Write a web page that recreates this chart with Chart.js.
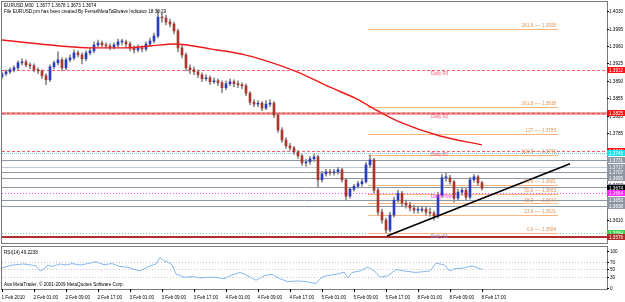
<!DOCTYPE html>
<html><head><meta charset="utf-8">
<script src="https://cdn.jsdelivr.net/npm/chart.js@4/dist/chart.umd.min.js"></script>
<style>
html,body{margin:0;padding:0;background:#fff;width:625px;height:302px;overflow:hidden}
#main{position:absolute;left:0;top:0}
#rsi{position:absolute;left:0;top:245px}
</style></head><body>
<canvas id="main" width="625" height="245"></canvas>
<canvas id="rsi" width="625" height="57"></canvas>
<script>
// ---------- DATA ----------
const opens = [1.3898,1.3904,1.3908,1.3912,1.3916,1.3926,1.3928,1.3922,1.3920,1.3912,
1.3910,1.3900,1.3892,1.3918,1.3926,1.3932,1.3916,1.3932,1.3936,1.3946,
1.3942,1.3934,1.3946,1.3950,1.3962,1.3966,1.3962,1.3960,1.3958,1.3962,
1.3968,1.3968,1.3964,1.3956,1.3952,1.3956,1.3954,1.3964,1.3970,1.3980,
1.4018,1.4016,1.4008,1.4004,1.3990,1.3956,1.3942,1.3916,1.3912,1.3908,
1.3902,1.3894,1.3896,1.3888,1.3890,1.3886,1.3876,1.3884,1.3888,1.3884,
1.3882,1.3880,1.3865,1.3847,1.3843,1.3845,1.3835,1.3843,1.3845,1.3821,
1.3791,1.3771,1.3759,1.3755,1.3747,1.3739,1.3725,1.3727,1.3733,1.3737,
1.3691,1.3703,1.3707,1.3705,1.3707,1.3711,1.3691,1.3658,1.3672,1.3678,
1.3683,1.3687,1.3721,1.3731,1.3670,1.3626,1.3610,1.3590,1.3620,1.3650,
1.3664,1.3644,1.3640,1.3634,1.3630,1.3630,1.3632,1.3626,1.3624,1.3618,
1.3660,1.3695,1.3695,1.3687,1.3654,1.3666,1.3670,1.3656,1.3691,1.3697,
1.3685];
const highs = [1.3908,1.3912,1.3916,1.3920,1.3930,1.3934,1.3932,1.3926,1.3924,1.3916,
1.3912,1.3904,1.3922,1.3930,1.3948,1.3936,1.3936,1.3942,1.3952,1.3950,
1.3946,1.3950,1.3956,1.3968,1.3972,1.3970,1.3966,1.3964,1.3966,1.3974,
1.3974,1.3972,1.3968,1.3960,1.3962,1.3960,1.3968,1.3976,1.3986,1.4032,
1.4026,1.4022,1.4014,1.4008,1.3994,1.3962,1.3946,1.3922,1.3918,1.3912,
1.3906,1.3902,1.3900,1.3896,1.3894,1.3890,1.3890,1.3894,1.3892,1.3890,
1.3886,1.3884,1.3868,1.3852,1.3850,1.3848,1.3850,1.3852,1.3848,1.3824,
1.3796,1.3776,1.3764,1.3758,1.3750,1.3742,1.3732,1.3738,1.3742,1.3740,
1.3708,1.3712,1.3712,1.3712,1.3716,1.3714,1.3694,1.3676,1.3682,1.3688,
1.3692,1.3726,1.3741,1.3734,1.3674,1.3632,1.3614,1.3626,1.3656,1.3670,
1.3668,1.3650,1.3646,1.3640,1.3638,1.3638,1.3636,1.3634,1.3628,1.3666,
1.3702,1.3704,1.3700,1.3690,1.3672,1.3676,1.3674,1.3696,1.3702,1.3700,
1.3688];
const lows = [1.3894,1.3900,1.3904,1.3908,1.3912,1.3922,1.3918,1.3914,1.3908,1.3904,
1.3894,1.3882,1.3888,1.3914,1.3922,1.3910,1.3912,1.3928,1.3932,1.3938,
1.3924,1.3930,1.3942,1.3946,1.3958,1.3958,1.3956,1.3952,1.3954,1.3958,
1.3962,1.3958,1.3950,1.3946,1.3948,1.3948,1.3950,1.3960,1.3966,1.3976,
1.4008,1.4002,1.3998,1.3984,1.3948,1.3936,1.3910,1.3904,1.3902,1.3896,
1.3888,1.3890,1.3882,1.3884,1.3880,1.3866,1.3872,1.3880,1.3878,1.3876,
1.3874,1.3860,1.3842,1.3838,1.3838,1.3830,1.3832,1.3838,1.3816,1.3786,
1.3766,1.3754,1.3750,1.3742,1.3734,1.3720,1.3718,1.3722,1.3728,1.3676,
1.3686,1.3698,1.3700,1.3700,1.3702,1.3686,1.3650,1.3654,1.3668,1.3674,
1.3678,1.3684,1.3716,1.3664,1.3620,1.3604,1.3584,1.3586,1.3616,1.3646,
1.3638,1.3634,1.3628,1.3624,1.3624,1.3626,1.3620,1.3618,1.3610,1.3614,
1.3656,1.3688,1.3682,1.3646,1.3650,1.3660,1.3650,1.3652,1.3686,1.3680,
1.3670];
const closes = [1.3904,1.3908,1.3912,1.3916,1.3926,1.3928,1.3922,1.3920,1.3912,1.3910,
1.3900,1.3892,1.3918,1.3926,1.3932,1.3916,1.3932,1.3936,1.3946,1.3942,
1.3934,1.3946,1.3950,1.3962,1.3966,1.3962,1.3960,1.3958,1.3962,1.3968,
1.3968,1.3964,1.3956,1.3952,1.3956,1.3954,1.3964,1.3970,1.3980,1.4018,
1.4016,1.4008,1.4004,1.3990,1.3956,1.3942,1.3916,1.3912,1.3908,1.3902,
1.3894,1.3896,1.3888,1.3890,1.3886,1.3876,1.3884,1.3888,1.3884,1.3882,
1.3880,1.3865,1.3847,1.3843,1.3845,1.3835,1.3843,1.3845,1.3821,1.3791,
1.3771,1.3759,1.3755,1.3747,1.3739,1.3725,1.3727,1.3733,1.3737,1.3691,
1.3703,1.3707,1.3705,1.3707,1.3711,1.3691,1.3658,1.3672,1.3678,1.3683,
1.3687,1.3721,1.3731,1.3670,1.3626,1.3610,1.3590,1.3620,1.3650,1.3664,
1.3644,1.3640,1.3634,1.3630,1.3630,1.3632,1.3626,1.3624,1.3618,1.3660,
1.3695,1.3695,1.3687,1.3654,1.3666,1.3670,1.3656,1.3691,1.3697,1.3685,
1.3674];

const timeLabels = ['1 Feb 2010','2 Feb 01:00','2 Feb 09:00','2 Feb 17:00','3 Feb 01:00','3 Feb 09:00',
  '3 Feb 17:00','4 Feb 01:00','4 Feb 09:00','4 Feb 17:00','5 Feb 01:00','5 Feb 09:00','5 Feb 17:00',
  '8 Feb 01:00','8 Feb 09:00','8 Feb 17:00'];
const timeLabelHours = [0,8,16,24,32,40,48,56,64,72,80,88,96,104,112,120];

const maHours  = [0,7,14.5,22,30.75,37,43.25,52,60.75,65.25,73.75,82,88.25,94.5,99.5,109.5,120];
const maValues = [1.3972,1.3966,1.3960,1.3956,1.3956,1.3960,1.3964,1.3954,1.3942,1.3932,1.3908,1.3877,1.3855,1.3827,1.3807,1.3779,1.3761];

const rsiHours = [0,2.5,5.5,8.5,9.5,10.5,11.5,12.5,14.5,16,17.5,19.5,21.5,23.5,25.5,27.5,29.5,31.5,32.5,34.5,
  36.5,38.5,39.5,40.5,41.5,42.5,43.5,45.5,47.5,49.5,51.5,53.5,55.5,57.5,59.5,61.5,63.5,65.5,67.5,69.5,
  71.5,73.5,75.5,78.5,79.5,80.5,83.5,85.5,86.5,87.5,89.5,91.5,93.5,94.5,96.5,98.5,100.5,103.5,107,108.5,
  110.5,112,113,115.5,117.5,119,120];
const rsiValues = [54,62,65,60,46,52,62,58,65,62,66,62,66,71,63,66,58,56,52,46,
  57,65,83,73,70,63,38,29,31,27,29,29,25,35,42,33,21,33,37,25,
  17,19,18,12,25,32,37,43,27,42,46,57,42,29,33,50,46,42,46,67,
  63,46,52,54,60,54,50];
const rsiTicks = [100,70,50,30,0];
const rsiLevels = [70,50,30];
const rsiLast = '49.2238';

const pivotNames  = ['Daily R3','Daily R2','Daily R1','Daily Pivot','Daily S1'];
const pivotValues = [1.3912,1.3825,1.3749,1.3664,1.3584];
const openLine = 1.3745;
const srLevels = [1.3731,1.3717,1.3707,1.3695,1.3676,1.3650,1.3638];
const lowLine = 1.3576;
const bid = 1.3674;
const fibRatios = ['261.8','161.8','127','100.0','61.8','50.0','38.2','23.6','0.0'];
const fibValues = [1.3995,1.3838,1.3783,1.3741,1.3681,1.3663,1.3644,1.3621,1.3584];
const trendHours = [96.25,142];
const trendValues = [1.3578,1.3723];
const priceTicks = [1.4030,1.3995,1.3960,1.3925,1.3890,1.3855,1.3820,1.3785,1.3750,1.3715,1.3680,1.3645,1.3610,1.3575];
const titleLine1 = 'EURUSD,M30  1.3677 1.3678 1.3673 1.3674';
const titleLine2 = 'File EURUSD.prn has been created By FerrariMetaToElwave Indicator 18:30:29';
const copyright = 'Ava MetaTrader, \u00a9 2001-2009 MetaQuotes Software Corp.';

// ---------- STYLE / LAYOUT ----------
const FONT = '4.6px "Liberation Sans", Arial, sans-serif';
const X_MAX = 151.25;
const Y_MIN = 1.35639, Y_MAX = 1.40483;
const FIB_FROM = 91.5, FIB_TO = 139;

function hl(ctx, py, color, w, dash, x0, x1){
  ctx.save();
  ctx.strokeStyle = color; ctx.lineWidth = w; ctx.setLineDash(dash || []);
  const yy = (w % 2 === 1) ? Math.round(py) + 0.5 : Math.round(py);
  ctx.beginPath(); ctx.moveTo(x0, yy); ctx.lineTo(x1, yy); ctx.stroke();
  ctx.restore();
}
function box(ctx, py, bg, fg, text){
  const yy = Math.round(py);
  ctx.fillStyle = bg; ctx.fillRect(607, yy - 3, 18, 6);
  ctx.fillStyle = fg; ctx.font = FONT; ctx.textAlign = 'left'; ctx.textBaseline = 'middle';
  ctx.fillText(text, 609, yy + 0.3);
}

const mainDecor = {
  id: 'mainDecor',
  beforeDatasetsDraw(chart){
    const {ctx, chartArea: a, scales: {x, y}} = chart;
    ctx.save();
    ctx.beginPath(); ctx.rect(a.left, a.top, a.right - a.left, a.bottom - a.top); ctx.clip();
    const L = a.left, R = a.right;
    srLevels.forEach((v, i) => hl(ctx, y.getPixelForValue(v), i === 1 ? '#c3c9d0' : '#8d97a3', 1, [], L, R));
    hl(ctx, y.getPixelForValue(pivotValues[0]), '#ff5a70', 1, [3,2], L, R);
    hl(ctx, y.getPixelForValue(pivotValues[1]), '#eea2a2', 3, [], L, R);
    hl(ctx, y.getPixelForValue(pivotValues[1]), '#e0505e', 1, [3,2], L, R);
    hl(ctx, y.getPixelForValue(pivotValues[2]), '#ff5a70', 1, [3,2], L, R);
    hl(ctx, y.getPixelForValue(openLine), '#5cd6de', 1, [1,1], L, R);
    hl(ctx, y.getPixelForValue(pivotValues[3]), '#ff40ff', 1, [1,2], L, R);
    hl(ctx, y.getPixelForValue(pivotValues[4]), '#7cc87c', 1, [1,2], L, R);
    hl(ctx, y.getPixelForValue(lowLine), '#b03030', 2, [], L, R);
    const fx0 = x.getPixelForValue(FIB_FROM), fx1 = x.getPixelForValue(FIB_TO);
    fibValues.forEach(v => hl(ctx, y.getPixelForValue(v), '#ffb47c', 1, [], fx0, fx1));
    ctx.restore();
  },
  afterDatasetsDraw(chart){
    const {ctx, chartArea: a, scales: {x, y}} = chart;
    ctx.save();
    ctx.font = FONT;
    const fx1 = x.getPixelForValue(FIB_TO);
    ctx.fillStyle = '#e0955a'; ctx.textAlign = 'right'; ctx.textBaseline = 'bottom';
    fibValues.forEach((v, i) => ctx.fillText(fibRatios[i] + ' ---- ' + v.toFixed(4), fx1 - 2, y.getPixelForValue(v) - 0.5));
    const pColors = ['#ff5a7a','#ff5a7a','#ff5a7a','#ff30ff','#8a7cc0'];
    ctx.textAlign = 'left'; ctx.textBaseline = 'top';
    pivotNames.forEach((n, i) => { ctx.fillStyle = pColors[i]; ctx.fillText(n, 431, y.getPixelForValue(pivotValues[i]) + 1.5); });
    ctx.fillStyle = '#000'; ctx.textBaseline = 'alphabetic';
    ctx.fillText(titleLine1, 4, 7);
    ctx.fillText(titleLine2, 4, 12.5);
    ctx.restore();
  },
  afterDraw(chart){
    const {ctx, chartArea: a, scales: {y}} = chart;
    ctx.save();
    ctx.strokeStyle = '#7a7a7a'; ctx.lineWidth = 1;
    ctx.strokeRect(a.left - 0.5, a.top - 0.5, a.right - a.left + 1, a.bottom - a.top + 1);
    ctx.font = FONT; ctx.fillStyle = '#000'; ctx.textAlign = 'left'; ctx.textBaseline = 'middle';
    priceTicks.forEach(v => {
      const py = Math.round(y.getPixelForValue(v)) + 0.5;
      ctx.beginPath(); ctx.moveTo(a.right, py); ctx.lineTo(a.right + 2, py); ctx.strokeStyle = '#000'; ctx.stroke();
      ctx.fillText(v.toFixed(4), 609, py);
    });
    box(ctx, y.getPixelForValue(pivotValues[0]), '#ff1010', '#fff', pivotValues[0].toFixed(4));
    box(ctx, y.getPixelForValue(pivotValues[1]), '#ff1010', '#fff', pivotValues[1].toFixed(4));
    box(ctx, y.getPixelForValue(pivotValues[2]), '#ff1010', '#fff', pivotValues[2].toFixed(4));
    box(ctx, y.getPixelForValue(openLine), '#18e0ec', '#fff', openLine.toFixed(4));
    srLevels.forEach(v => box(ctx, y.getPixelForValue(v), '#8d97a3', '#fff', v.toFixed(4)));
    box(ctx, y.getPixelForValue(bid), '#000', '#fff', bid.toFixed(4));
    box(ctx, y.getPixelForValue(pivotValues[3]), '#ff20ff', '#fff', pivotValues[3].toFixed(4));
    box(ctx, y.getPixelForValue(pivotValues[4]), '#3ccf4c', '#fff', pivotValues[4].toFixed(4));
    box(ctx, y.getPixelForValue(lowLine), '#b02828', '#fff', lowLine.toFixed(4));
    ctx.restore();
  }
};

const idx = closes.map((_, i) => i);
new Chart(document.getElementById('main'), {
  type: 'bar',
  data: {
    datasets: [
      { type: 'line', data: trendHours.map((h, i) => ({x: h, y: trendValues[i]})),
        borderColor: '#000', borderWidth: 1.6, pointRadius: 0, order: 0 },
      { type: 'line', data: maHours.map((h, i) => ({x: h, y: maValues[i]})),
        borderColor: '#f01818', borderWidth: 1.4, pointRadius: 0, cubicInterpolationMode: 'monotone', order: 1 },
      { type: 'bar', data: idx.map(i => ({x: i, y: [opens[i], closes[i]]})),
        backgroundColor: idx.map(i => closes[i] >= opens[i] ? '#2a3cc0' : '#a8382c'),
        barThickness: 2, minBarLength: 1, grouped: false, order: 2 },
      { type: 'bar', data: idx.map(i => ({x: i, y: [lows[i], highs[i]]})),
        backgroundColor: '#8a8a8a', barThickness: 1, grouped: false, order: 3 }
    ]
  },
  options: {
    responsive: false, animation: false, devicePixelRatio: 1,
    layout: { padding: { left: 2, top: 2, right: 18, bottom: 2 } },
    plugins: { legend: { display: false }, tooltip: { enabled: false } },
    scales: {
      x: { type: 'linear', min: 0, max: X_MAX, offset: false, display: false },
      y: { type: 'linear', min: Y_MIN, max: Y_MAX, display: false }
    }
  },
  plugins: [mainDecor]
});

const rsiDecor = {
  id: 'rsiDecor',
  beforeDatasetsDraw(chart){
    const {ctx, chartArea: a, scales: {y}} = chart;
    rsiLevels.forEach(v => hl(ctx, y.getPixelForValue(v), '#c4c4c4', 1, [1,2], a.left, a.right));
  },
  afterDraw(chart){
    const {ctx, chartArea: a, scales: {x, y}} = chart;
    ctx.save();
    ctx.strokeStyle = '#7a7a7a'; ctx.lineWidth = 1;
    ctx.strokeRect(a.left - 0.5, a.top - 0.5, a.right - a.left + 1, a.bottom - a.top + 1);
    ctx.font = FONT; ctx.fillStyle = '#000'; ctx.textAlign = 'left'; ctx.textBaseline = 'middle';
    rsiTicks.forEach(v => {
      const py = Math.round(y.getPixelForValue(v)) + 0.5;
      ctx.beginPath(); ctx.moveTo(a.right, py); ctx.lineTo(a.right + 2, py); ctx.strokeStyle = '#000'; ctx.stroke();
      ctx.fillText(String(v), 610, py);
    });
    ctx.textBaseline = 'alphabetic';
    timeLabelHours.forEach((h, i) => {
      const px = Math.round(x.getPixelForValue(h)) + 0.5;
      ctx.beginPath(); ctx.moveTo(px, a.bottom); ctx.lineTo(px, a.bottom + 3); ctx.strokeStyle = '#000'; ctx.stroke();
      ctx.fillText(timeLabels[i], px - 1, 54);
    });
    ctx.fillText('RSI(14) ' + rsiLast, 4, 8.5);
    ctx.fillText(copyright, 4, 41);
    ctx.restore();
  }
};

new Chart(document.getElementById('rsi'), {
  type: 'line',
  data: { datasets: [{ data: rsiHours.map((h, i) => ({x: h, y: rsiValues[i]})),
    borderColor: '#86b6f0', borderWidth: 1, pointRadius: 0, tension: 0 }] },
  options: {
    responsive: false, animation: false, devicePixelRatio: 1,
    layout: { padding: { left: 2, top: 2, right: 18, bottom: 13 } },
    plugins: { legend: { display: false }, tooltip: { enabled: false } },
    scales: {
      x: { type: 'linear', min: 0, max: X_MAX, display: false },
      y: { type: 'linear', min: -2.7, max: 110.8, display: false }
    }
  },
  plugins: [rsiDecor]
});
</script>
</body></html>
